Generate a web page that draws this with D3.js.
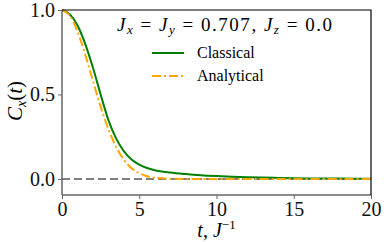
<!DOCTYPE html>
<html>
<head>
<meta charset="utf-8">
<script src="https://cdn.jsdelivr.net/npm/d3@7"></script>
<style>
  body { margin: 0; background: #fff; }
</style>
</head>
<body>
<div id="chart"></div>
<script>
// values
const tValues = [0, 0.5, 1, 1.5, 2, 2.5, 3, 3.5, 4, 4.5, 5, 5.5, 6, 7, 8, 9, 10, 11, 12, 14, 16, 18, 20];
const classical = [1.0, 0.975, 0.91, 0.8, 0.66, 0.5, 0.35, 0.24, 0.165, 0.115, 0.085, 0.065, 0.052, 0.038, 0.029, 0.022, 0.017, 0.013, 0.01, 0.006, 0.003, 0.002, 0.001];
const analytical = [1.0, 0.967, 0.873, 0.737, 0.581, 0.428, 0.295, 0.19, 0.114, 0.064, 0.034, 0.016, 0.007, 0.001, 0, 0, 0, 0, 0, 0, 0, 0, 0];
const xTicks = [0, 5, 10, 15, 20];
const yTicks = [0.0, 0.5, 1.0];
const seriesNames = ["Classical", "Analytical"];

const width = 387, height = 242;
const margin = {top: 10, right: 16, bottom: 47, left: 62};
const innerW = width - margin.left - margin.right;
const innerH = height - margin.top - margin.bottom;

const svg = d3.select('#chart').append('svg')
  .attr('width', width)
  .attr('height', height);

const g = svg.append('g')
  .attr('transform', `translate(${margin.left},${margin.top})`);

const x = d3.scaleLinear().domain([0, 20]).range([0, innerW]);
const y = d3.scaleLinear().domain([-0.095, 1.0]).range([innerH, 0]);

// zero reference line
g.append('line')
  .attr('x1', x(0)).attr('x2', x(20))
  .attr('y1', y(0)).attr('y2', y(0))
  .attr('stroke', '#555')
  .attr('stroke-width', 1.5)
  .attr('stroke-dasharray', '8,4');

const line = d3.line()
  .x(d => x(d[0]))
  .y(d => y(d[1]))
  .curve(d3.curveMonotoneX);

g.append('path')
  .datum(tValues.map((t, i) => [t, classical[i]]))
  .attr('fill', 'none')
  .attr('stroke', '#008000')
  .attr('stroke-width', 2)
  .attr('d', line);

g.append('path')
  .datum(tValues.map((t, i) => [t, analytical[i]]))
  .attr('fill', 'none')
  .attr('stroke', '#ffa500')
  .attr('stroke-width', 2)
  .attr('stroke-dasharray', '9,3,2,3')
  .attr('d', line);

// axes
const xAxis = g.append('g')
  .attr('transform', `translate(0,${innerH})`)
  .call(d3.axisBottom(x).tickValues(xTicks).tickSize(4).tickPadding(3).tickFormat(d3.format('d')));
const yAxis = g.append('g')
  .call(d3.axisLeft(y).tickValues(yTicks).tickSize(4).tickPadding(3).tickFormat(d3.format('.1f')));

[xAxis, yAxis].forEach(a => {
  a.attr('font-size', 20);
  a.select('.domain').attr('stroke', '#666').attr('stroke-width', 1.5);
  a.selectAll('.tick line').attr('stroke', '#666').attr('stroke-width', 1);
  a.selectAll('.tick text').attr('fill', '#111');
});
yAxis.select('.domain').attr('d', `M0,${innerH}V0`);
xAxis.select('.domain').attr('d', `M0,0H${innerW}`);

// top and right spines
g.append('path')
  .attr('d', `M0,0H${innerW}V${innerH}`)
  .attr('fill', 'none')
  .attr('stroke', '#000')
  .attr('stroke-width', 1.2);

// axis labels
const yl = svg.append('text')
  .attr('transform', `translate(22,101) rotate(-90)`)
  .attr('text-anchor', 'middle')
  .attr('font-size', 21);
yl.append('tspan').attr('font-style', 'italic').text('C');
yl.append('tspan').attr('font-style', 'italic').attr('font-size', 14).attr('dy', 4).text('x');
yl.append('tspan').attr('dy', -4).text('(');
yl.append('tspan').attr('font-style', 'italic').text('t');
yl.append('tspan').text(')');

const xl = svg.append('text')
  .attr('x', margin.left + innerW / 2)
  .attr('y', 237)
  .attr('text-anchor', 'middle')
  .attr('font-size', 20);
xl.append('tspan').attr('font-style', 'italic').text('t');
xl.append('tspan').text(', ');
xl.append('tspan').attr('font-style', 'italic').text('J');
xl.append('tspan').attr('font-size', 13).attr('dy', -8).text('−1');

// title inside plot
const title = svg.append('text')
  .attr('x', 117)
  .attr('y', 31)
  .attr('font-size', 19)
  .attr('textLength', 215)
  .attr('lengthAdjust', 'spacing');
title.append('tspan').attr('font-style', 'italic').text('J');
title.append('tspan').attr('font-style', 'italic').attr('font-size', 13).attr('dy', 3).text('x');
title.append('tspan').attr('dy', -3).text(' = ');
title.append('tspan').attr('font-style', 'italic').text('J');
title.append('tspan').attr('font-style', 'italic').attr('font-size', 13).attr('dy', 3).text('y');
title.append('tspan').attr('dy', -3).text(' = 0.707, ');
title.append('tspan').attr('font-style', 'italic').text('J');
title.append('tspan').attr('font-style', 'italic').attr('font-size', 13).attr('dy', 3).text('z');
title.append('tspan').attr('dy', -3).text(' = 0.0');

// legend
const legend = svg.append('g').attr('transform', 'translate(152,53)');
const legendStyles = [
  {color: '#008000', dash: null},
  {color: '#ffa500', dash: '9,3,2,3'}
];
seriesNames.forEach((name, i) => {
  const row = legend.append('g').attr('transform', `translate(0,${i * 23})`);
  row.append('line')
    .attr('x1', 0).attr('x2', 32)
    .attr('stroke', legendStyles[i].color)
    .attr('stroke-width', 2)
    .attr('stroke-dasharray', legendStyles[i].dash);
  row.append('text')
    .attr('x', 45)
    .attr('y', 5)
    .attr('font-size', 16)
    .text(name);
});

// serif everywhere, set inline on each text
svg.selectAll('text, tspan').style('font-family', '"Liberation Serif"');
</script>
</body>
</html>
